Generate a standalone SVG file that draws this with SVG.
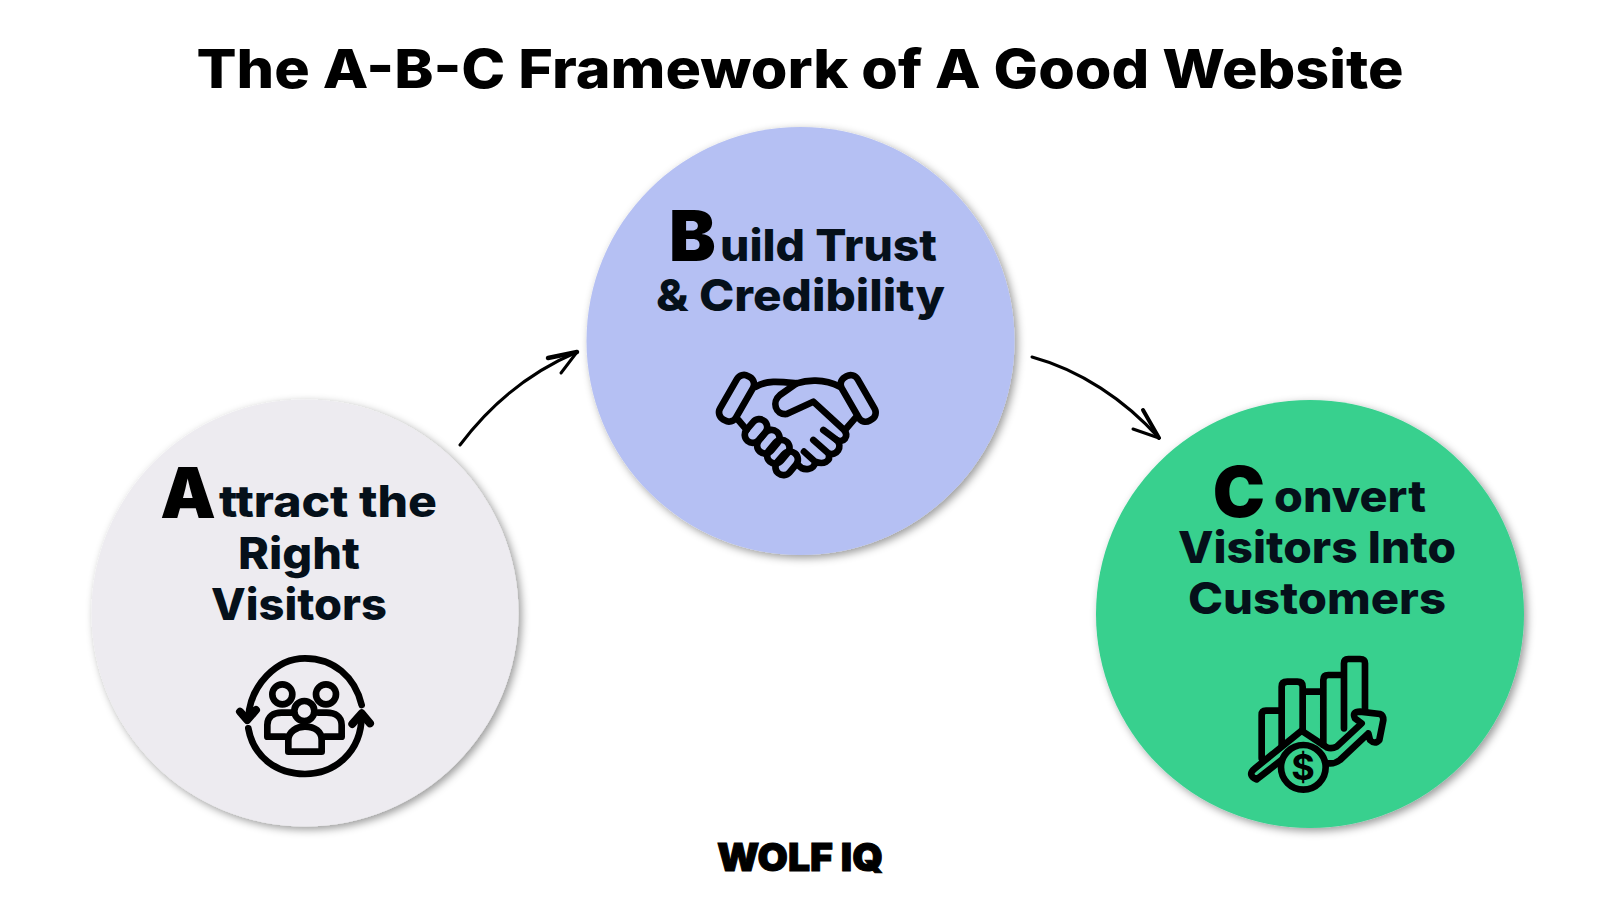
<svg xmlns="http://www.w3.org/2000/svg" width="1600" height="900" viewBox="0 0 1600 900">
<defs>
<filter id="sh" x="-10%" y="-10%" width="125%" height="125%"><feDropShadow dx="3" dy="3" stdDeviation="4" flood-color="#000" flood-opacity=".4"/></filter>
</defs>
<style>
text{font-family:"Inter","Noto Sans","Liberation Sans",sans-serif;font-weight:800;fill:#05101a;text-anchor:middle}
.t{font-size:44px}
.cap{font-size:70px;font-weight:900;fill:#000}
.ic{fill:none;stroke:#000;stroke-width:20;stroke-linecap:round;stroke-linejoin:round}
.ar{fill:none;stroke:#000;stroke-width:3;stroke-linecap:round;stroke-linejoin:round}
</style>
<rect width="1600" height="900" fill="#fff"/>
<text id="title" x="800" y="88" font-size="54" textLength="1207" lengthAdjust="spacingAndGlyphs" style="fill:#000;font-weight:800">The A-B-C Framework of A Good Website</text>
<g id="node-a">
<circle cx="305" cy="613" r="213.5" fill="#edebf0" filter="url(#sh)"/>
<text class="cap" x="188" y="518">A</text>
<text class="t" x="328" y="517" textLength="218" lengthAdjust="spacingAndGlyphs">ttract the</text>
<text class="t" x="299" y="569" textLength="122" lengthAdjust="spacingAndGlyphs">Right</text>
<text class="t" x="299" y="620" textLength="176" lengthAdjust="spacingAndGlyphs">Visitors</text>
<g class="ic" transform="translate(220,630) scale(.3333)">
<path d="M85,265C90,165 170,85 255,85C340,85 405,140 425,225M85,295C100,380 170,432 255,432C340,432 425,370 425,255"/>
<path d="M60,245L82,270L108,240M397,282L425,250L450,280" stroke-width="24"/>
<circle cx="187" cy="193" r="30"/><circle cx="318" cy="193" r="30"/><circle cx="253" cy="243" r="30"/>
<path d="M205,365V330C205,305 230,290 255,290C285,290 305,305 305,330V365Z"/>
<path d="M195,320H142V285C142,260 160,248 185,248H215M315,320H365V285C365,260 345,248 320,248H295"/>
</g>
</g>
<g id="node-b">
<circle cx="800.5" cy="341" r="214" fill="#b5c0f3" filter="url(#sh)"/>
<text class="cap" x="692.5" y="261">B</text>
<text class="t" x="828.5" y="260.5" textLength="217" lengthAdjust="spacingAndGlyphs">uild Trust</text>
<text class="t" x="800.5" y="310.5" textLength="289" lengthAdjust="spacingAndGlyphs">&amp; Credibility</text>
<g class="ic" transform="translate(680,340) scale(.3333)">
<rect x="142" y="100" width="55" height="150" rx="24" transform="rotate(30 170 175)"/>
<rect x="507" y="100" width="55" height="150" rx="24" transform="rotate(-30 535 175)"/>
<path d="M228,140C260,120 300,125 350,130C380,120 430,115 480,140"/>
<path d="M350,130L300,165C275,185 285,225 320,222L400,185L490,268C510,290 490,310 470,300L430,270"/>
<path d="M470,300C490,320 470,350 445,340L400,300M445,340C455,365 430,375 405,365L372,335M405,365C405,390 370,395 355,375"/>
<path d="M175,240L200,270M525,235L495,270"/>
<rect x="204" y="234" width="48" height="78" rx="24" transform="rotate(40 228 273)"/>
<rect x="241" y="266" width="48" height="78" rx="24" transform="rotate(40 265 305)"/>
<rect x="271" y="296" width="48" height="78" rx="24" transform="rotate(40 295 335)"/>
<rect x="296" y="331" width="48" height="78" rx="24" transform="rotate(40 320 370)"/>
</g>
</g>
<g id="node-c">
<circle cx="1310" cy="614" r="214" fill="#37d08e" filter="url(#sh)"/>
<text class="cap" x="1239" y="517">C</text>
<text class="t" x="1350" y="512" textLength="152" lengthAdjust="spacingAndGlyphs">onvert</text>
<text class="t" x="1317" y="563" textLength="278" lengthAdjust="spacingAndGlyphs">Visitors Into</text>
<text class="t" x="1317" y="614" textLength="258" lengthAdjust="spacingAndGlyphs">Customers</text>
<g class="ic" transform="translate(1210,630) scale(.3333)">
<path d="M155,385V255Q155,242 168,242H215M215,345V170Q215,155 232,155H262Q278,155 278,170V300M278,185H340M340,345V150Q340,135 355,135H402M402,295V100Q402,87 415,87H450Q465,87 465,100V240"/>
<path d="M135,415L275,302L350,352Q365,358 380,350L455,280L435,265Q425,245 450,245L510,252Q520,255 520,270L508,330Q495,345 480,330L475,310L390,390Q375,402 355,400M140,448L215,390M135,415Q110,435 140,448"/>
<circle cx="280" cy="412" r="67"/>
</g>
<text x="1303" y="780" font-size="36" style="font-weight:700;fill:#000">$</text>
</g>
<g id="connectors">
<path class="ar" d="M460,445C490,405 530,372 577,352"/>
<path class="ar" d="M561,373L577,352"/>
<path class="ar" d="M548,358L577,352" style="stroke-width:4.5"/>
<path class="ar" d="M1032,357C1080,370 1125,400 1159,438"/>
<path class="ar" d="M1143,410L1159,438" style="stroke-width:4"/>
<path class="ar" d="M1133,429L1159,438"/>
</g>
<g id="logo"><text x="800" y="871" font-size="38.5" textLength="166" lengthAdjust="spacingAndGlyphs" style="font-weight:900;fill:#000;stroke:#000;stroke-width:1">WOLF IQ</text></g>
</svg>
